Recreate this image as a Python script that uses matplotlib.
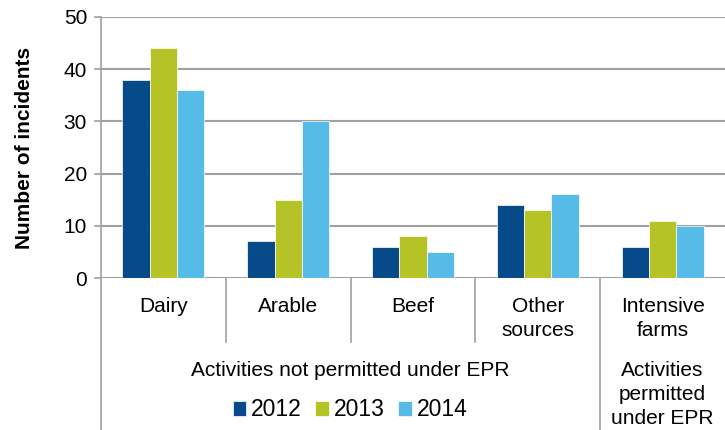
import numpy as np
import matplotlib.pyplot as plt

categories = ["Dairy", "Arable", "Beef", "Other\nsources", "Intensive\nfarms"]
years = ["2012", "2013", "2014"]
v2012 = [38, 7, 6, 14, 6]
v2013 = [44, 15, 8, 13, 11]
v2014 = [36, 30, 5, 16, 10]
groups = ["Activities not permitted under EPR", "Activities\npermitted\nunder EPR"]

colors = ["#064A89", "#B5C327", "#56BBE6"]
grid_c = "#A0A0A0"

plt.rcParams["font.family"] = ["Liberation Sans", "DejaVu Sans"]

fig = plt.figure(figsize=(7.25, 4.3), dpi=100)
ax = fig.add_axes([101 / 725, 1 - 278 / 430, 624 / 725, 261 / 430])

x = np.arange(len(categories))
w = 0.219
for i, (vals, c, lab) in enumerate(zip([v2012, v2013, v2014], colors, years)):
    ax.bar(x + (i - 1) * w, vals, w, color=c, label=lab, edgecolor="white", linewidth=0.5, zorder=3)

ax.set_xlim(-0.5, 4.5)
ax.set_ylim(0, 50)
ax.set_yticks(range(0, 51, 10))
ax.yaxis.grid(True, color=grid_c, linewidth=1.5, zorder=0)
ax.set_axisbelow(True)
for s in ["top", "right", "bottom"]:
    ax.spines[s].set_visible(False)
ax.spines["left"].set_color(grid_c)
ax.spines["left"].set_linewidth(1.2)
ax.tick_params(axis="y", length=5, width=1.2, color=grid_c, labelsize=15, pad=5)
ax.set_xticks([])
ax.set_ylabel("Number of incidents", fontsize=15, fontweight="bold")
ax.yaxis.set_label_coords(-0.108, 0.5)

trans = ax.get_xaxis_transform()


def py(px):
    # pixel row below the plot -> axes fraction
    return -(px - 278) / 261


# separators under the axis
for xs in [0.5, 1.5, 2.5]:
    ax.plot([xs, xs], [0, py(342)], transform=trans, color=grid_c, lw=1.2, clip_on=False)
for xs in [-0.5, 3.5]:
    ax.plot([xs, xs], [0, py(432)], transform=trans, color=grid_c, lw=1.2, clip_on=False)

for xi, cat in zip(x, categories):
    for j, line in enumerate(cat.split("\n")):
        ax.text(xi, py(307 + 23 * j), line, transform=trans, ha="center", va="center", fontsize=15)

ax.text(1.5, py(370), groups[0], transform=trans, ha="center", va="center", fontsize=15)
for j, line in enumerate(groups[1].split("\n")):
    ax.text(4, py(370 + 24 * j), line, transform=trans, ha="center", va="center", fontsize=15)

fig.legend(loc="center", bbox_to_anchor=(350 / 725, 1 - 410 / 430), ncol=3, frameon=False,
           fontsize=16.5, handlelength=0.6, handleheight=0.6, handletextpad=0.2,
           columnspacing=0.6, borderpad=0)

fig.savefig("out.png", dpi=100)
